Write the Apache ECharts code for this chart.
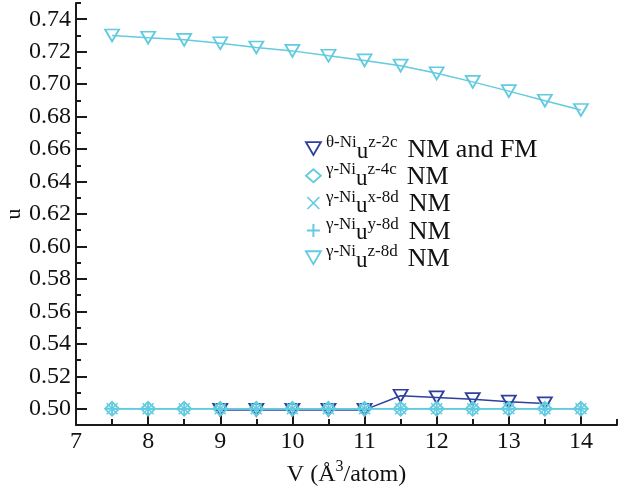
<!DOCTYPE html>
<html>
<head>
<meta charset="utf-8">
<script src="https://cdn.jsdelivr.net/npm/echarts@6/dist/echarts.min.js"></script>
<style>
  html, body { margin: 0; padding: 0; background: #ffffff; }
  #chart { width: 619px; height: 491px; }
</style>
</head>
<body>
<div id="chart"></div>
<script>
// Internal coordinate u versus volume per atom
const volumes = [7.5, 8, 8.5, 9, 9.5, 10, 10.5, 11, 11.5, 12, 12.5, 13, 13.5, 14];

const thetaUz2c = [null, null, null, 0.4993, 0.4993, 0.4993, 0.4993, 0.4993, 0.5080, 0.5070, 0.5059, 0.5044, 0.5033, null];
const gammaUz4c = [0.5, 0.5, 0.5, 0.5, 0.5, 0.5, 0.5, 0.5, 0.5, 0.5, 0.5, 0.5, 0.5, 0.5];
const gammaUx8d = [0.5, 0.5, 0.5, 0.5, 0.5, 0.5, 0.5, 0.5, 0.5, 0.5, 0.5, 0.5, 0.5, 0.5];
const gammaUy8d = [0.5, 0.5, 0.5, 0.5, 0.5, 0.5, 0.5, 0.5, 0.5, 0.5, 0.5, 0.5, 0.5, 0.5];
const gammaUz8d = [0.7300, 0.7286, 0.7273, 0.7252, 0.7226, 0.7205, 0.7175, 0.7146, 0.7114, 0.7067, 0.7014, 0.6957, 0.6898, 0.6841];

const xTickValues = [7, 8, 9, 10, 11, 12, 13, 14];
const yTickValues = [0.50, 0.52, 0.54, 0.56, 0.58, 0.60, 0.62, 0.64, 0.66, 0.68, 0.70, 0.72, 0.74];

// legend pieces: phase, component, magnetic state
const legendPhase = ['θ-Ni', 'γ-Ni', 'γ-Ni', 'γ-Ni', 'γ-Ni'];
const legendComp = ['z-2c', 'z-4c', 'x-8d', 'y-8d', 'z-8d'];
const legendMag = ['NM and FM', 'NM', 'NM', 'NM', 'NM'];

const DARK = '#2f3f9e';
const CYAN = '#62cbe0';
const AXIS = '#1a1a1a';
const SERIF = '"Liberation Serif", "DejaVu Serif", serif';

const TRI_DOWN = 'path://M0,0 L14,0 L7,12 Z';
const CROSS = 'path://M1,0 L6,5 L11,0 L12,1 L7,6 L12,11 L11,12 L6,7 L1,12 L0,11 L5,6 L0,1 Z';
const PLUS = 'path://M5.1,0 L6.9,0 L6.9,5.1 L12,5.1 L12,6.9 L6.9,6.9 L6.9,12 L5.1,12 L5.1,6.9 L0,6.9 L0,5.1 L5.1,5.1 Z';

function pairs(values) {
  const out = [];
  volumes.forEach((v, i) => { if (values[i] != null) out.push([v, values[i]]); });
  return out;
}

const names = legendPhase.map((p, i) => p + ' u ' + legendComp[i] + ' ' + legendMag[i]);
const nameIndex = {};
names.forEach((n, i) => { nameIndex[n] = i; });

const hollow = c => ({ color: 'rgba(0,0,0,0)', borderColor: c, borderWidth: 1.8 });
const solid = c => ({ color: c, borderWidth: 0 });

const seriesDefs = [
  { values: thetaUz2c, color: DARK, symbol: TRI_DOWN, size: [14, 12], style: hollow(DARK) },
  { values: gammaUz4c, color: CYAN, symbol: 'diamond', size: [14, 14], style: hollow(CYAN) },
  { values: gammaUx8d, color: CYAN, symbol: CROSS, size: [12, 12], style: solid(CYAN) },
  { values: gammaUy8d, color: CYAN, symbol: PLUS, size: [13, 13], style: solid(CYAN) },
  { values: gammaUz8d, color: CYAN, symbol: TRI_DOWN, size: [14, 12], style: hollow(CYAN) }
];

const series = seriesDefs.map((d, i) => ({
  name: names[i],
  type: 'line',
  data: pairs(d.values),
  symbol: d.symbol,
  symbolSize: d.size,
  showAllSymbol: true,
  itemStyle: d.style,
  lineStyle: { color: d.color, width: 1.5 },
  z: 2 + i
}));

const legendData = seriesDefs.map((d, i) => ({
  name: names[i],
  icon: d.symbol,
  itemStyle: d.style
}));

const tickStyle = { color: AXIS, width: 2 };

const option = {
  animation: false,
  backgroundColor: '#ffffff',
  grid: { left: 76, right: 2, top: 3, bottom: 66, outerBoundsMode: 'none', containLabel: false },
  legend: {
    orient: 'vertical',
    left: 305,
    top: 134,
    padding: 0,
    itemWidth: 15,
    itemHeight: 13,
    itemGap: -1.7,
    data: legendData,
    selectedMode: false,
    formatter: name => {
      const i = nameIndex[name];
      return '{s|' + legendPhase[i] + '}{u|u}{s|' + legendComp[i] + '}{n|' + legendMag[i] + '}';
    },
    textStyle: {
      color: '#111',
      fontFamily: SERIF,
      rich: {
        s: { fontFamily: SERIF, fontSize: 17, color: '#111', lineHeight: 29, verticalAlign: 'top' },
        u: { fontFamily: SERIF, fontSize: 23, color: '#111', verticalAlign: 'bottom' },
        n: { fontFamily: SERIF, fontSize: 26, color: '#111', verticalAlign: 'bottom', padding: [0, 0, 0, 10] }
      }
    }
  },
  xAxis: [
    {
      type: 'value', min: 7, max: 14.5, interval: 0.5, position: 'bottom',
      axisLine: { show: true, lineStyle: { color: AXIS, width: 2 } },
      axisTick: { show: true, inside: true, length: 6, lineStyle: tickStyle },
      axisLabel: {
        customValues: xTickValues,
        formatter: v => String(v),
        fontFamily: SERIF, fontSize: 24, color: '#111', margin: 5
      },
      splitLine: { show: false },
      name: '{n|V (Å}{sup|3}{n|/atom)}',
      nameLocation: 'middle',
      nameGap: 22,
      nameTextStyle: {
        rich: {
          n: { fontFamily: SERIF, fontSize: 24, color: '#111', lineHeight: 28, verticalAlign: 'bottom' },
          sup: { fontFamily: SERIF, fontSize: 16, color: '#111', lineHeight: 16, verticalAlign: 'top' }
        }
      }
    },
    {
      type: 'value', min: 7, max: 14.5, position: 'bottom',
      axisLine: { show: false },
      axisTick: { show: true, inside: true, length: 12, customValues: xTickValues, lineStyle: tickStyle },
      axisLabel: { show: false },
      splitLine: { show: false }
    }
  ],
  yAxis: [
    {
      type: 'value', min: 0.49, max: 0.75, interval: 0.01, position: 'left',
      axisLine: { show: true, lineStyle: { color: AXIS, width: 2 } },
      axisTick: { show: true, inside: true, length: 5, lineStyle: tickStyle },
      axisLabel: {
        customValues: yTickValues,
        formatter: v => v.toFixed(2),
        fontFamily: SERIF, fontSize: 24, color: '#111', margin: 5
      },
      splitLine: { show: false },
      name: 'u',
      nameLocation: 'middle',
      nameGap: 51,
      nameMoveOverlap: false,
      nameTextStyle: { fontFamily: SERIF, fontSize: 22, color: '#111' }
    },
    {
      type: 'value', min: 0.49, max: 0.75, position: 'left',
      axisLine: { show: false },
      axisTick: { show: true, inside: true, length: 11, customValues: yTickValues, lineStyle: tickStyle },
      axisLabel: { show: false },
      splitLine: { show: false }
    }
  ],
  series: series
};

const chart = echarts.init(document.getElementById('chart'), null, { renderer: 'canvas' });
chart.setOption(option);
</script>
</body>
</html>
